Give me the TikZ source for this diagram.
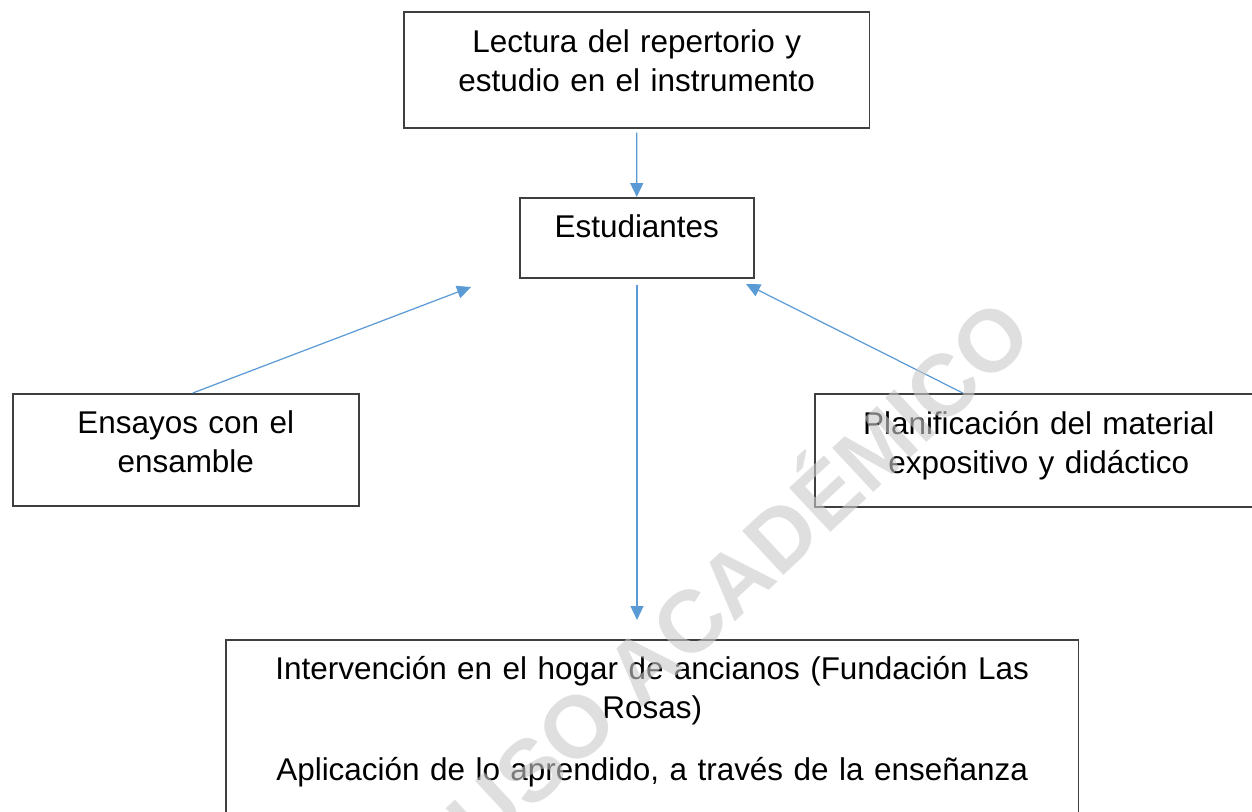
\documentclass[tikz,border=0pt]{standalone}
\usepackage{fontspec}
\setmainfont{Liberation Sans}
\usetikzlibrary{arrows.meta,positioning}
\definecolor{flechaazul}{HTML}{5B9BD5}
\definecolor{bordecaja}{HTML}{3F3F3F}
\definecolor{marcagris}{HTML}{CACACA}
\tikzset{
  caja/.style={draw=bordecaja, line width=0.9pt, inner sep=0pt, align=center,
    anchor=north west, font=\fontsize{17.9}{21.9}\selectfont},
  flecha/.style={draw=flechaazul, line width=0.7pt,
    -{Triangle[length=0.28cm,width=0.26cm]}},
  marca/.style={text=marcagris, opacity=0.6, font=\fontsize{50}{52}\bfseries\selectfont}
}

\begin{document}
\begin{tikzpicture}[x=0.02cm, y=-0.02cm]
\useasboundingbox (0,0) rectangle (1252,812);
% cajas
\node[caja, text width=9.32cm, text height=0.82cm, text depth=1.5cm] (lectura) at (403,11)
  {Lectura del repertorio y\\estudio en el instrumento};
\node[caja, text width=4.68cm, text height=0.8cm, text depth=0.8cm] (estudiantes) at (519,197)
  {Estudiantes};
\node[caja, text width=6.92cm, text height=0.8cm, text depth=1.44cm] (ensayos) at (12,393)
  {Ensayos con el\\ensamble};
\node[caja, text width=8.96cm, text height=0.82cm, text depth=1.44cm] (planificacion) at (814,393)
  {Planificaci\'on del material\\expositivo y did\'actico};
\node[caja, text width=17.06cm, text height=0.8cm, text depth=3.02cm] (intervencion) at (225,639)
  {Intervenci\'on en el hogar de ancianos (Fundaci\'on Las\\Rosas)\\[0.47cm]Aplicaci\'on de lo aprendido, a trav\'es de la ense\~nanza};
% extremos libres
\coordinate (ensayosfin) at (471,287);
\coordinate (planfin) at (746,284);
\coordinate (intllega) at (637,620);
\coordinate (estsale) at (637,285);
% flechas
\draw[flecha, shorten <=0.08cm] (lectura.south) -- (estudiantes.north);
\draw[flecha] ([xshift=0.14cm]ensayos.north) -- (ensayosfin);
\draw[flecha] ([xshift=-1.52cm]planificacion.north) -- (planfin);
\draw[flecha] (estsale) -- (intllega);
% marca de agua
\node[marca, rotate=43] (agua) at (734,570) {USO ACADÉMICO};
\end{tikzpicture}
\end{document}
